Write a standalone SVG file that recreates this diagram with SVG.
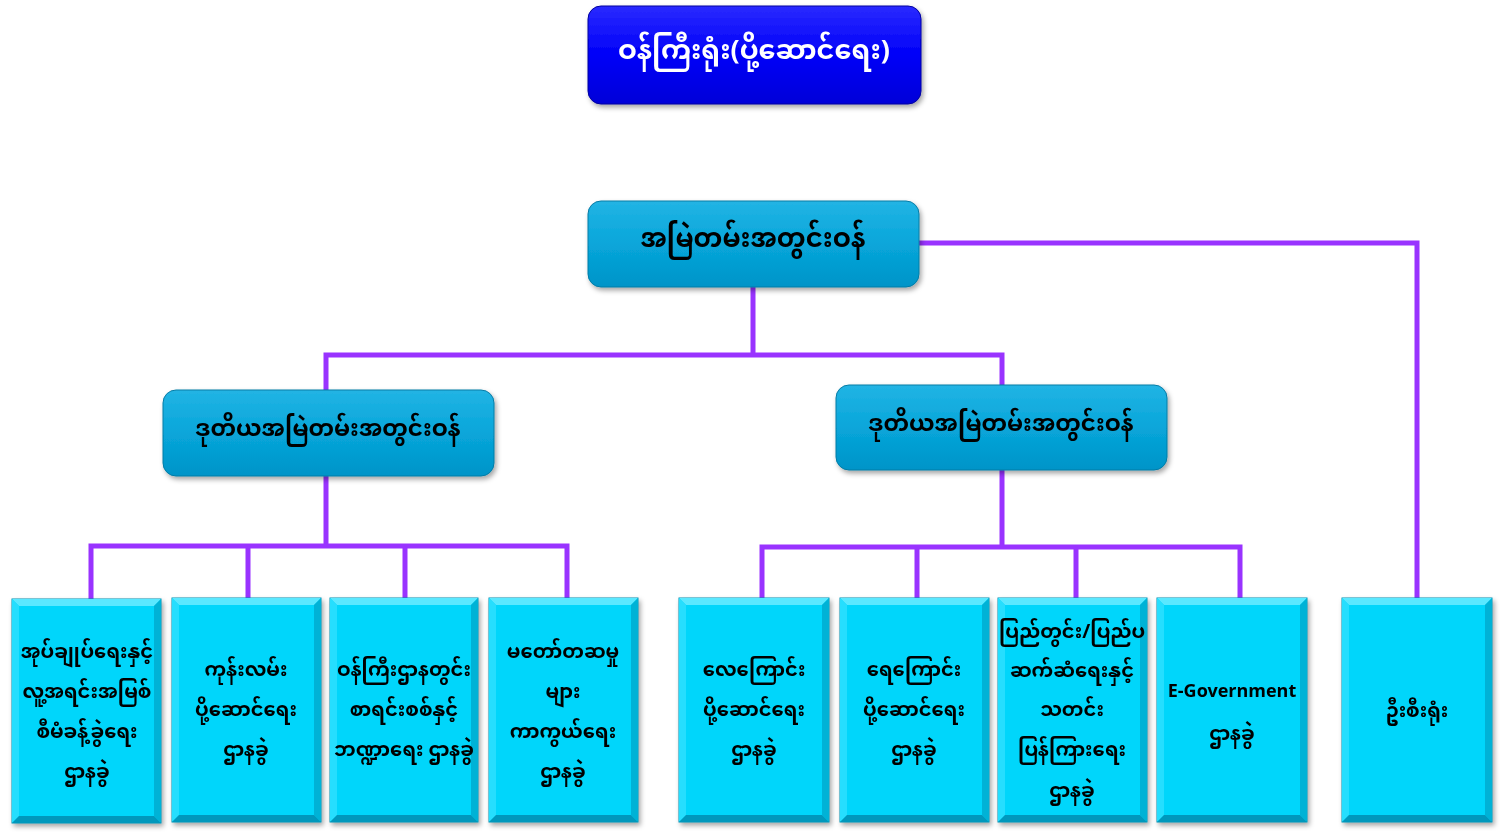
<svg xmlns="http://www.w3.org/2000/svg" width="1501" height="837" viewBox="0 0 1501 837">
<defs>
<linearGradient id="gTop" x1="0" y1="0" x2="0" y2="1">
<stop offset="0" stop-color="#2a2aff"/><stop offset="0.5" stop-color="#0000f8"/><stop offset="1" stop-color="#0000d8"/>
</linearGradient>
<linearGradient id="gMid" x1="0" y1="0" x2="0" y2="1">
<stop offset="0" stop-color="#22b4e4"/><stop offset="0.5" stop-color="#08a6da"/><stop offset="1" stop-color="#0094c8"/>
</linearGradient>
<filter id="sh" x="-10%" y="-10%" width="125%" height="130%">
<feDropShadow dx="2" dy="3" stdDeviation="2.5" flood-color="#000" flood-opacity="0.35"/>
</filter>
</defs>
<style>
.top{fill:url(#gTop);stroke:#0000a0;stroke-width:1}
.mid{fill:url(#gMid);stroke:#067ca6;stroke-width:1}
.leaf{fill:#00d6fb;stroke:#0a8fb0;stroke-width:1}
.bt{fill:#5ae8ff}
.bl{fill:#28defe}
.br{fill:#00b2d6}
.bb{fill:#0098bc}
.con{fill:none;stroke:#9933ff;stroke-width:5;stroke-linecap:square}
text{font-family:"Noto Sans Myanmar","Padauk","Myanmar Text","Noto Sans",sans-serif;font-weight:bold;text-anchor:middle;dominant-baseline:central}
.tw{fill:#fff;font-size:27px}
.tm{fill:#000;font-size:26px}
.td{fill:#000;font-size:23px}
.tl{fill:#000;font-size:19.5px}
</style>
<rect width="1501" height="837" fill="#fff"/>
<g id="connectors">
<path class="con" d="M753 287V355M326 355H1002M326 355V390M1002 355V385"/>
<path class="con" d="M919 243H1417V598"/>
<path class="con" d="M326 476V546M91 546H567M91 546V598M248 546V598M405 546V598M567 546V598"/>
<path class="con" d="M1002 470V547M762 547H1240M762 547V598M917 547V598M1076 547V598M1240 547V598"/>
</g>
<g id="minister" filter="url(#sh)">
<rect class="top" x="588" y="6" width="333" height="98" rx="13"/>
<text class="tw" x="754" y="52">ဝန်ကြီးရုံး(ပို့ဆောင်ရေး)</text>
</g>
<g id="permsec" filter="url(#sh)">
<rect class="mid" x="588" y="201" width="331" height="86" rx="13"/>
<text class="tm" x="753" y="241">အမြဲတမ်းအတွင်းဝန်</text>
</g>
<g id="deputy1" filter="url(#sh)">
<rect class="mid" x="163" y="390" width="331" height="86" rx="13"/>
<text class="td" x="328" y="431">ဒုတိယအမြဲတမ်းအတွင်းဝန်</text>
</g>
<g id="deputy2" filter="url(#sh)">
<rect class="mid" x="836" y="385" width="331" height="85" rx="13"/>
<text class="td" x="1001" y="426">ဒုတိယအမြဲတမ်းအတွင်းဝန်</text>
</g>
<g id="leaf1" filter="url(#sh)">
<rect class="leaf" x="12" y="599" width="149" height="224"/>
<path class="bt" d="M12 599H161L154 606H19Z"/><path class="bl" d="M12 599L19 606V816L12 823Z"/>
<path class="br" d="M161 599L154 606V816L161 823Z"/><path class="bb" d="M12 823L19 816H154L161 823Z"/>
<text class="tl" x="87" y="653">အုပ်ချုပ်ရေးနှင့်</text>
<text class="tl" x="87" y="693">လူ့အရင်းအမြစ်</text>
<text class="tl" x="87" y="733">စီမံခန့်ခွဲရေး</text>
<text class="tl" x="87" y="773">ဌာနခွဲ</text>
</g>
<g id="leaf2" filter="url(#sh)">
<rect class="leaf" x="172" y="598" width="149" height="224"/>
<path class="bt" d="M172 598H321L314 605H179Z"/><path class="bl" d="M172 598L179 605V815L172 822Z"/>
<path class="br" d="M321 598L314 605V815L321 822Z"/><path class="bb" d="M172 822L179 815H314L321 822Z"/>
<text class="tl" x="246" y="671">ကုန်းလမ်း</text>
<text class="tl" x="246" y="711">ပို့ဆောင်ရေး</text>
<text class="tl" x="246" y="751">ဌာနခွဲ</text>
</g>
<g id="leaf3" filter="url(#sh)">
<rect class="leaf" x="330" y="598" width="148" height="224"/>
<path class="bt" d="M330 598H478L471 605H337Z"/><path class="bl" d="M330 598L337 605V815L330 822Z"/>
<path class="br" d="M478 598L471 605V815L478 822Z"/><path class="bb" d="M330 822L337 815H471L478 822Z"/>
<text class="tl" x="404" y="671">ဝန်ကြီးဌာနတွင်း</text>
<text class="tl" x="404" y="711">စာရင်းစစ်နှင့်</text>
<text class="tl" x="404" y="751">ဘဏ္ဍာရေး ဌာနခွဲ</text>
</g>
<g id="leaf4" filter="url(#sh)">
<rect class="leaf" x="489" y="598" width="149" height="224"/>
<path class="bt" d="M489 598H638L631 605H496Z"/><path class="bl" d="M489 598L496 605V815L489 822Z"/>
<path class="br" d="M638 598L631 605V815L638 822Z"/><path class="bb" d="M489 822L496 815H631L638 822Z"/>
<text class="tl" x="563" y="653">မတော်တဆမှု</text>
<text class="tl" x="563" y="693">များ</text>
<text class="tl" x="563" y="733">ကာကွယ်ရေး</text>
<text class="tl" x="563" y="773">ဌာနခွဲ</text>
</g>
<g id="leaf5" filter="url(#sh)">
<rect class="leaf" x="679" y="598" width="150" height="224"/>
<path class="bt" d="M679 598H829L822 605H686Z"/><path class="bl" d="M679 598L686 605V815L679 822Z"/>
<path class="br" d="M829 598L822 605V815L829 822Z"/><path class="bb" d="M679 822L686 815H822L829 822Z"/>
<text class="tl" x="754" y="671">လေကြောင်း</text>
<text class="tl" x="754" y="711">ပို့ဆောင်ရေး</text>
<text class="tl" x="754" y="751">ဌာနခွဲ</text>
</g>
<g id="leaf6" filter="url(#sh)">
<rect class="leaf" x="840" y="598" width="149" height="224"/>
<path class="bt" d="M840 598H989L982 605H847Z"/><path class="bl" d="M840 598L847 605V815L840 822Z"/>
<path class="br" d="M989 598L982 605V815L989 822Z"/><path class="bb" d="M840 822L847 815H982L989 822Z"/>
<text class="tl" x="914" y="671">ရေကြောင်း</text>
<text class="tl" x="914" y="711">ပို့ဆောင်ရေး</text>
<text class="tl" x="914" y="751">ဌာနခွဲ</text>
</g>
<g id="leaf7" filter="url(#sh)">
<rect class="leaf" x="998" y="598" width="149" height="224"/>
<path class="bt" d="M998 598H1147L1140 605H1005Z"/><path class="bl" d="M998 598L1005 605V815L998 822Z"/>
<path class="br" d="M1147 598L1140 605V815L1147 822Z"/><path class="bb" d="M998 822L1005 815H1140L1147 822Z"/>
<text class="tl" x="1072" y="633">ပြည်တွင်း/ပြည်ပ</text>
<text class="tl" x="1072" y="672">ဆက်ဆံရေးနှင့်</text>
<text class="tl" x="1072" y="711">သတင်း</text>
<text class="tl" x="1072" y="751">ပြန်ကြားရေး</text>
<text class="tl" x="1072" y="792">ဌာနခွဲ</text>
</g>
<g id="leaf8" filter="url(#sh)">
<rect class="leaf" x="1157" y="598" width="150" height="224"/>
<path class="bt" d="M1157 598H1307L1300 605H1164Z"/><path class="bl" d="M1157 598L1164 605V815L1157 822Z"/>
<path class="br" d="M1307 598L1300 605V815L1307 822Z"/><path class="bb" d="M1157 822L1164 815H1300L1307 822Z"/>
<text class="tl" x="1232" y="692" style="font-size:18px">E-Government</text>
<text class="tl" x="1232" y="735">ဌာနခွဲ</text>
</g>
<g id="leaf9" filter="url(#sh)">
<rect class="leaf" x="1342" y="598" width="150" height="224"/>
<path class="bt" d="M1342 598H1492L1485 605H1349Z"/><path class="bl" d="M1342 598L1349 605V815L1342 822Z"/>
<path class="br" d="M1492 598L1485 605V815L1492 822Z"/><path class="bb" d="M1342 822L1349 815H1485L1492 822Z"/>
<text class="tl" x="1417" y="712">ဦးစီးရုံး</text>
</g>
</svg>
